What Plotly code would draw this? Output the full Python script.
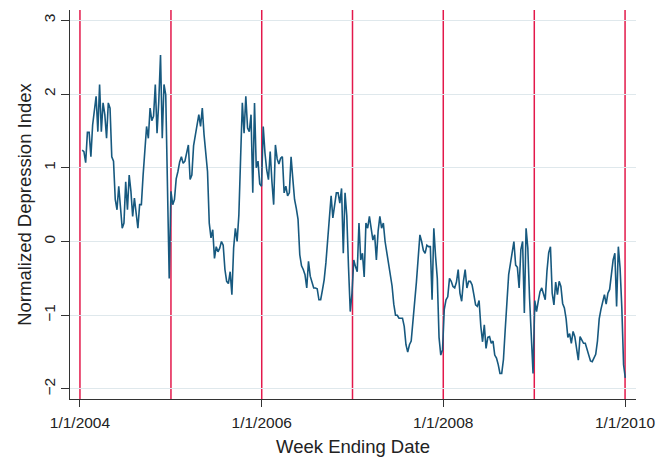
import pandas as pd
import plotly.graph_objects as go

# Weekly normalized depression index (week ending Saturdays)
v2004 = [1.24, 1.22, 1.07, 1.48, 1.48, 1.15, 1.58, 1.76, 1.97, 1.49,
         2.13, 1.49, 1.88, 1.72, 1.40, 1.88, 1.81, 1.15, 1.09, 0.57,
         0.43, 0.75, 0.41, 0.18, 0.25, 0.81, 0.43, 0.90, 0.68, 0.34,
         0.59, 0.36, 0.18, 0.50, 0.50, 0.90, 1.18, 1.56, 1.40, 1.81,
         1.64, 1.70, 2.13, 1.47, 1.90, 2.53, 1.40, 2.13, 1.99, 0.90,
         -0.50]
v2005 = [0.68, 0.50, 0.57, 0.85, 0.95, 1.08, 1.15, 1.06, 1.09, 1.20,
         1.31, 0.84, 0.90, 1.30, 1.45, 1.62, 1.72, 1.56, 1.81, 1.45,
         1.22, 0.95, 0.25, 0.05, 0.16, -0.23, -0.07, -0.14, -0.09, 0.0,
         -0.05, -0.38, -0.54, -0.57, -0.41, -0.72, -0.09, 0.18, 0.0, 0.36,
         1.13, 1.88, 1.47, 1.97, 1.54, 1.49, 1.72, 0.66, 1.88, 1.00,
         1.09, 0.78]
v2006 = [0.75, 1.56, 1.20, 0.97, 0.84, 1.22, 0.81, 0.50, 1.31, 1.12,
         1.05, 1.13, 1.15, 0.66, 0.75, 0.62, 0.66, 1.15, 0.85, 0.57,
         0.45, 0.30, -0.18, -0.33, -0.38, -0.45, -0.63, -0.27, -0.47, -0.57,
         -0.63, -0.63, -0.64, -0.79, -0.79, -0.66, -0.52, -0.29, -0.02, 0.25,
         0.62, 0.32, 0.52, 0.66, 0.66, 0.52, 0.72, -0.16, 0.66, 0.35,
         -0.35, -0.95, -0.70]
v2007 = [-0.25, -0.34, -0.41, 0.25, -0.25, -0.16, -0.48, 0.25, 0.18, 0.34,
         0.14, 0.02, 0.09, -0.25, 0.14, 0.34, 0.18, 0.25, 0.0, -0.14,
         -0.30, -0.48, -0.60, -0.85, -1.00, -1.00, -1.04, -1.04, -1.04, -1.15,
         -1.40, -1.50, -1.40, -1.35, -1.10, -0.85, -0.55, -0.23, 0.09, 0.0,
         -0.12, -0.16, -0.05, -0.07, -0.07, -0.79, 0.18, -0.20, -0.50, -1.30,
         -1.54, -1.47]
v2008 = [-0.92, -0.79, -0.75, -0.50, -0.54, -0.61, -0.63, -0.55, -0.38, -0.70,
         -0.81, -0.54, -0.38, -0.63, -0.54, -0.54, -0.59, -0.72, -0.86, -0.88,
         -0.80, -1.15, -1.36, -1.13, -1.45, -1.30, -1.29, -1.38, -1.35, -1.54,
         -1.58, -1.67, -1.79, -1.79, -1.60, -1.20, -0.80, -0.45, -0.30, -0.15,
         0.0, -0.32, -0.35, -0.63, -0.11, 0.0, -0.97, 0.18, -0.09, -0.77,
         -1.27, -1.79]
v2009 = [-0.80, -0.95, -0.81, -0.68, -0.63, -0.70, -0.79, -0.40, -0.15, -0.07,
         -0.70, -0.86, -0.55, -0.72, -0.54, -0.61, -0.84, -0.90, -1.05, -1.30,
         -1.25, -1.38, -1.22, -1.29, -1.45, -1.61, -1.29, -1.33, -1.38, -1.38,
         -1.45, -1.55, -1.62, -1.63, -1.58, -1.53, -1.35, -1.05, -0.92, -0.82,
         -0.72, -0.85, -0.70, -0.65, -0.45, -0.25, -0.16, -0.88, -0.07, -0.36,
         -0.90, -1.67]
v2010 = [-1.85]

first_week = "2004-01-10"
year_marks = ["2004-01-01", "2005-01-01", "2006-01-01", "2007-01-01",
              "2008-01-01", "2009-01-01", "2010-01-01"]
x_tickvals = ["2004-01-01", "2006-01-01", "2008-01-01", "2010-01-01"]
x_ticktext = ["1/1/2004", "1/1/2006", "1/1/2008", "1/1/2010"]
y_tickvals = [-2, -1, 0, 1, 2, 3]

values = v2004 + v2005 + v2006 + v2007 + v2008 + v2009 + v2010
dates = pd.date_range(first_week, periods=len(values), freq="7D")

fig = go.Figure()
fig.add_trace(go.Scatter(x=dates, y=values, mode="lines",
                         line=dict(color="#17597f", width=1.6),
                         showlegend=False, hoverinfo="skip"))

for d in year_marks:
    fig.add_shape(type="line", xref="x", yref="paper", x0=d, x1=d, y0=0, y1=1,
                  line=dict(color="#e3194b", width=1.5), layer="between")

# page body has an 8px default margin, so the figure is 8px smaller
font_fam = "Liberation Sans, Arial, sans-serif"
fig.update_layout(
    width=656, height=450,
    margin=dict(l=62, r=28, t=2, b=59),
    paper_bgcolor="white", plot_bgcolor="white",
    font=dict(family=font_fam, color="#222", size=15.5),
    xaxis=dict(
        range=["2003-11-22", "2010-02-14"],
        tickmode="array", tickvals=x_tickvals, ticktext=x_ticktext,
        showgrid=False, zeroline=False, automargin=False,
        showline=True, linecolor="#333", linewidth=1,
        ticks="outside", ticklen=7, tickcolor="#333", tickwidth=1,
        ticklabelstandoff=2,
        tickfont=dict(size=15.5, color="#222"),
        title=dict(text="Week Ending Date", font=dict(size=18.5, color="#222"), standoff=10),
    ),
    yaxis=dict(
        range=[-2.136, 3.14],
        tickmode="array", tickvals=y_tickvals,
        showgrid=True, gridcolor="#dfe8ec", gridwidth=1.2, zeroline=False,
        automargin=False,
        showline=True, linecolor="#333", linewidth=1,
        ticks="outside", ticklen=8, tickcolor="#333", tickwidth=1,
        tickangle=-90,
        tickfont=dict(size=15.5, color="#222"),
        title=dict(text="Normalized Depression Index", font=dict(size=18.5, color="#222"), standoff=4),
    ),
)

fig.write_html("out.html")
